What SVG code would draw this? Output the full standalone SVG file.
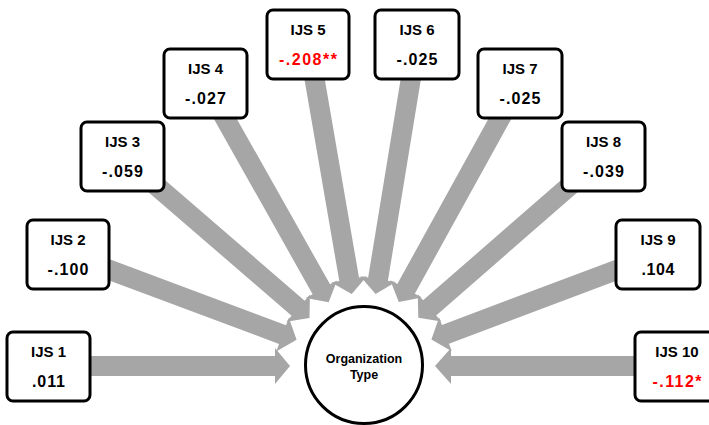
<svg xmlns="http://www.w3.org/2000/svg" width="709" height="425" viewBox="0 0 709 425">
<style>
.arrow{fill:#a6a6a6;stroke:none}
.box{fill:#ffffff;stroke:#000000;stroke-width:3}
.t{font-family:"Liberation Sans",Arial,sans-serif;font-weight:bold;font-size:15px;fill:#000000;text-anchor:middle}
.v{font-family:"Liberation Sans",Arial,sans-serif;font-weight:bold;font-size:16px;fill:#000000;text-anchor:middle}
.red{fill:#ff0000}
.ct{font-family:"Liberation Sans",Arial,sans-serif;font-weight:bold;font-size:12.5px;fill:#000000;text-anchor:middle}
</style>
<rect width="709" height="425" fill="#ffffff"/>
<g id="connectors">
<polygon class="arrow" points="48,356 275,356 275,348 290,366 275,384 275,376 48,376"/>
<polygon class="arrow" points="677,356 451,356 451,348 435,366 451,384 451,376 677,376"/>
<g transform="translate(296.6,339.8) rotate(20.5)"><polygon class="arrow" points="-243.5,-10 -15,-10 -15,-18 0,0 -15,18 -15,10 -243.5,10"/></g>
<g transform="translate(309.5,318) rotate(40.8)"><polygon class="arrow" points="-247,-10 -15,-10 -15,-18 0,0 -15,18 -15,10 -247,10"/></g>
<g transform="translate(328.7,302.3) rotate(60.6)"><polygon class="arrow" points="-251,-10 -15,-10 -15,-18 0,0 -15,18 -15,10 -251,10"/></g>
<g transform="translate(351.7,294.1) rotate(80.2)"><polygon class="arrow" points="-254,-10 -15,-10 -15,-18 0,0 -15,18 -15,10 -254,10"/></g>
<g transform="translate(375.6,294) rotate(99.3)"><polygon class="arrow" points="-253,-10 -15,-10 -15,-18 0,0 -15,18 -15,10 -253,10"/></g>
<g transform="translate(398.8,302) rotate(118.9)"><polygon class="arrow" points="-250,-10 -15,-10 -15,-18 0,0 -15,18 -15,10 -250,10"/></g>
<g transform="translate(418.3,317.7) rotate(138.95)"><polygon class="arrow" points="-245,-10 -15,-10 -15,-18 0,0 -15,18 -15,10 -245,10"/></g>
<g transform="translate(431.4,339.6) rotate(159.4)"><polygon class="arrow" points="-242,-10 -15,-10 -15,-18 0,0 -15,18 -15,10 -242,10"/></g>
</g>
<g id="org-type">
<circle cx="364" cy="365" r="58.5" fill="#ffffff" stroke="#000000" stroke-width="3"/>
<text class="ct" x="364" y="363">Organization</text>
<text class="ct" x="364" y="379">Type</text>
</g>
<g id="ijs1"><rect class="box" x="7" y="332" width="83" height="69" rx="6"/><text class="t" x="48.5" y="357">IJS 1</text><text class="v" x="48.5" y="387" textLength="33" lengthAdjust="spacing">.011</text></g>
<g id="ijs2"><rect class="box" x="27" y="220" width="82" height="69" rx="6"/><text class="t" x="68" y="245">IJS 2</text><text class="v" x="68" y="275" textLength="41" lengthAdjust="spacing">-.100</text></g>
<g id="ijs3"><rect class="box" x="81" y="122" width="83" height="69" rx="6"/><text class="t" x="122.5" y="147">IJS 3</text><text class="v" x="122.5" y="177" textLength="41" lengthAdjust="spacing">-.059</text></g>
<g id="ijs4"><rect class="box" x="164" y="49" width="83" height="69" rx="6"/><text class="t" x="205.5" y="74">IJS 4</text><text class="v" x="205.5" y="104" textLength="41" lengthAdjust="spacing">-.027</text></g>
<g id="ijs5"><rect class="box" x="267" y="10" width="82" height="69" rx="6"/><text class="t" x="308" y="35">IJS 5</text><text class="v red" x="308" y="65" textLength="58" lengthAdjust="spacing">-.208**</text></g>
<g id="ijs6"><rect class="box" x="375" y="10" width="84" height="69" rx="6"/><text class="t" x="417" y="35">IJS 6</text><text class="v" x="417" y="65" textLength="41" lengthAdjust="spacing">-.025</text></g>
<g id="ijs7"><rect class="box" x="478" y="49" width="84" height="69" rx="6"/><text class="t" x="520" y="74">IJS 7</text><text class="v" x="520" y="104" textLength="41" lengthAdjust="spacing">-.025</text></g>
<g id="ijs8"><rect class="box" x="562" y="122" width="83" height="69" rx="6"/><text class="t" x="603.5" y="147">IJS 8</text><text class="v" x="603.5" y="177" textLength="41" lengthAdjust="spacing">-.039</text></g>
<g id="ijs9"><rect class="box" x="616" y="220" width="84" height="69" rx="6"/><text class="t" x="658" y="245">IJS 9</text><text class="v" x="658" y="275" textLength="33" lengthAdjust="spacing">.104</text></g>
<g id="ijs10"><rect class="box" x="635" y="332" width="84" height="69" rx="6"/><text class="t" x="677" y="357">IJS 10</text><text class="v red" x="677" y="387" textLength="49" lengthAdjust="spacing">-.112*</text></g>
</svg>
